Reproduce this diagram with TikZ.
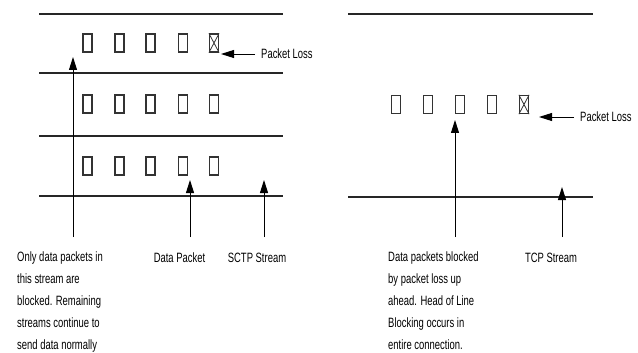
\documentclass[tikz,border=0pt]{standalone}
\usepackage{fontspec}
\setmainfont{Liberation Sans}[FakeStretch=0.7]
\usetikzlibrary{arrows.meta}
\begin{document}
\begin{tikzpicture}[x=1pt,y=-1pt,
  lane/.style={line width=1.6pt, draw=black!85},
  pkt/.style={draw=black!80, line width=1.2pt, minimum width=9pt, minimum height=18pt, inner sep=0pt},
  ptr/.style={line width=0.9pt, -{Triangle[width=8pt,length=13pt]}},
  lbl/.style={font=\fontsize{13.5}{22}\selectfont, inner sep=0pt, align=left},
]
\useasboundingbox (0,0) rectangle (638,353);
% ---------- left panel (SCTP) ----------
\draw[lane] (39,14) -- (283,14);
\draw[lane] (39,73) -- (283,73);
\draw[lane] (39,136) -- (283,136);
\draw[lane] (39,196) -- (283,196);
\foreach \x [count=\i] in {87.5,119.5,150.5,183,214} {
  \node[pkt] (a\i) at (\x,43) {};
  \node[pkt] (b\i) at (\x,104) {};
  \node[pkt] (c\i) at (\x,166) {};
}
\draw[line width=0.8pt, black!80] (a5.north west) -- (a5.south east) (a5.north east) -- (a5.south west);
\node[lbl, anchor=west] (lossA) at (261,54) {Packet Loss};
\coordinate (lossTipA) at (221,54);
\draw[ptr] ([xshift=-6pt]lossA.west) -- (lossTipA);
\coordinate (s1) at (73,237); \coordinate (t1) at (73,57);
\coordinate (s2) at (190,237); \coordinate (t2) at (190,180);
\coordinate (s3) at (264,237); \coordinate (t3) at (264,180);
\draw[ptr] (s1) -- (t1);
\draw[ptr] (s2) -- (t2);
\draw[ptr] (s3) -- (t3);
\node[lbl, anchor=north west] (noteA) at (17,252) {Only data packets in\\this stream are\\blocked. Remaining\\streams continue to\\send data normally};
\node[lbl, anchor=base] (dp) at (179.5,262) {Data Packet};
\node[lbl, anchor=base] (sctp) at (257,262) {SCTP Stream};
% ---------- right panel (TCP) ----------
\draw[lane] (348,14) -- (593,14);
\draw[lane] (348,197) -- (593,197);
\foreach \x [count=\i] in {396,428,460,492,524} {
  \node[pkt] (d\i) at (\x,104.5) {};
}
\draw[line width=0.8pt, black!80] (d5.north west) -- (d5.south east) (d5.north east) -- (d5.south west);
\node[lbl, anchor=west] (lossB) at (580,117) {Packet Loss};
\coordinate (lossTipB) at (539,117);
\draw[ptr] ([xshift=-6pt]lossB.west) -- (lossTipB);
\coordinate (s4) at (455,237); \coordinate (t4) at (455,120);
\coordinate (s5) at (562,237); \coordinate (t5) at (562,187);
\draw[ptr] (s4) -- (t4);
\draw[ptr] (s5) -- (t5);
\node[lbl, anchor=north west] (noteB) at (388,252) {Data packets blocked\\by packet loss up\\ahead. Head of Line\\Blocking occurs in\\entire connection.};
\node[lbl, anchor=base] (tcp) at (551,262) {TCP Stream};
\end{tikzpicture}
\end{document}
